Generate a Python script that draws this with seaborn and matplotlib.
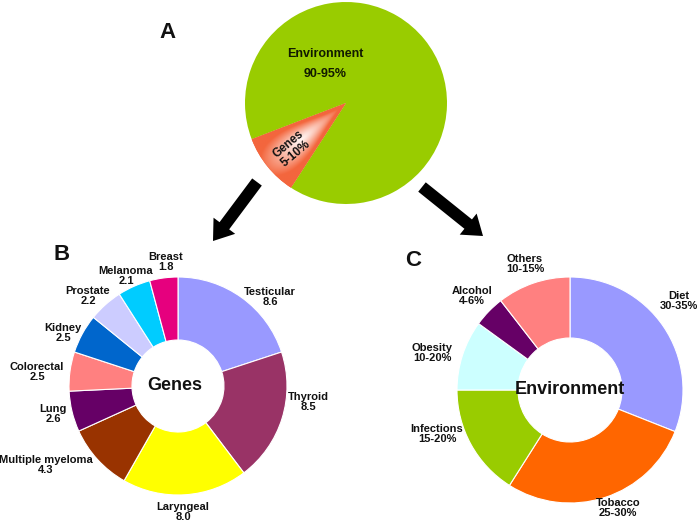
import numpy as np
import matplotlib
matplotlib.use("Agg")
import matplotlib.pyplot as plt
from matplotlib.patches import FancyArrow
import seaborn as sns

# panel A: genes vs environment
a_labels = ["Genes", "Environment"]
a_texts = ["Genes\n5-10%", "Environment\n90-95%"]
a_values = [10, 90]
a_colors = ["#f4623a", "#99cc00"]

# panel B: heritability by cancer type
b_labels = ["Testicular", "Thyroid", "Laryngeal", "Multiple myeloma", "Lung",
            "Colorectal", "Kidney", "Prostate", "Melanoma", "Breast"]
b_values = [8.6, 8.5, 8.0, 4.3, 2.6, 2.5, 2.5, 2.2, 2.1, 1.8]
b_colors = ["#9999ff", "#993366", "#ffff00", "#993300", "#660066",
            "#ff8080", "#0066cc", "#ccccff", "#00ccff", "#e6007e"]

# panel C: environmental factors
c_labels = ["Diet", "Tobacco", "Infections", "Obesity", "Alcohol", "Others"]
c_ranges = ["30-35%", "25-30%", "15-20%", "10-20%", "4-6%", "10-15%"]
c_values = [31, 28, 16, 10, 4.5, 10.5]
c_colors = ["#9999ff", "#ff6600", "#99cc00", "#ccffff", "#660066", "#ff8080"]

sns.set_theme(style="white")
plt.rcParams["font.family"] = ["Liberation Sans", "DejaVu Sans"]
plt.rcParams["font.weight"] = "bold"

H = 525
fig = plt.figure(figsize=(7, 5.25), dpi=100)
ax = fig.add_axes([0, 0, 1, 1])

# layout in pixels (y measured from the top, flipped below)
a_c, a_r = (346, H - 103), 101
b_c, b_r = (178, H - 386), 109
c_c, c_r = (570, H - 390), 113

wa, _ = ax.pie(a_values, colors=a_colors, startangle=201, counterclock=True,
               center=a_c, radius=a_r, wedgeprops=dict(linewidth=0))

# soft highlight along the middle of the genes slice
g = wa[0]
mid = np.deg2rad((g.theta1 + g.theta2) / 2)
half = np.deg2rad((g.theta2 - g.theta1) / 2)
gx0, gx1, gy0, gy1 = 238, 352, H - 200, H - 95
xx, yy = np.meshgrid(np.linspace(gx0, gx1, 300), np.linspace(gy0, gy1, 300))
rr = np.hypot(xx - a_c[0], yy - a_c[1])
ang = np.arctan2(yy - a_c[1], xx - a_c[0]) % (2 * np.pi)
dang = np.abs((ang - mid + np.pi) % (2 * np.pi) - np.pi) / half
t = np.clip(np.hypot(dang / 0.85, (rr - 58) / 48), 0, 1) ** 1.2
inner = np.array([1.0, 0.96, 0.95])
outer = np.array([0.955, 0.40, 0.24])
img = inner[None, None, :] * (1 - t[..., None]) + outer[None, None, :] * t[..., None]
im = ax.imshow(img, extent=(gx0, gx1, gy0, gy1), origin="lower", zorder=2,
               interpolation="bilinear")
im.set_clip_path(g)

ax.text(292, H - 149, a_texts[0], rotation=40, ha="center", va="center",
        multialignment="center", fontsize=8.5, color="#111111", zorder=3,
        linespacing=1.05)
ax.text(325, H - 64, a_texts[1], ha="center", va="center", fontsize=9,
        color="#111a00", linespacing=1.8)

wb, _ = ax.pie(b_values, colors=b_colors, startangle=90, counterclock=False,
               center=b_c, radius=b_r,
               wedgeprops=dict(width=63, edgecolor="white", linewidth=0.8))

wc, _ = ax.pie(c_values, colors=c_colors, startangle=90, counterclock=False,
               center=c_c, radius=c_r,
               explode=[0, 0, 0, 0, 0.05, 0],
               wedgeprops=dict(width=61, edgecolor="white", linewidth=0.8))

ax.text(b_c[0] - 3, b_c[1], "Genes", ha="center", va="center", fontsize=13,
        color="#111111")
ax.text(c_c[0], c_c[1], "Environment", ha="center", va="center", fontsize=13,
        color="#111111")

# label anchors (pixels from top-left of the picture)
b_pos = [(270, 297), (308, 402), (183, 512), (46, 465), (53, 414),
         (37, 372), (63, 333), (88, 296), (126, 276), (166, 262)]
for lab, val, (x, y) in zip(b_labels, b_values, b_pos):
    ax.text(x, H - y, f"{lab}\n{val:.1f}", ha="center", va="center",
            multialignment="center", fontsize=8, color="#111111",
            linespacing=1.05)

c_pos = [(679, 301), (618, 508), (437, 434), (432, 353), (472, 296), (525, 264)]
for lab, rng, (x, y) in zip(c_labels, c_ranges, c_pos):
    ax.text(x, H - y, f"{lab}\n{rng}", ha="center", va="center",
            multialignment="center", fontsize=8, color="#111111",
            linespacing=1.05)

ax.text(168, H - 33, "A", ha="center", va="center", fontsize=16, color="#111111")
ax.text(62, H - 255, "B", ha="center", va="center", fontsize=16, color="#111111")
ax.text(413, H - 260, "C", ha="center", va="center", fontsize=16, color="#111111")

# arrows from A to B and C
for (x0, y0), (x1, y1) in [((257, 182), (213, 241)), ((422, 187), (483, 236))]:
    ax.add_patch(FancyArrow(x0, H - y0, x1 - x0, y0 - y1, width=12,
                            head_width=27, head_length=19,
                            length_includes_head=True, color="black", lw=0))

ax.set_xlim(0, 700)
ax.set_ylim(0, H)
ax.set_aspect("equal")
ax.axis("off")

fig.savefig("out.png", dpi=100, facecolor="white")
